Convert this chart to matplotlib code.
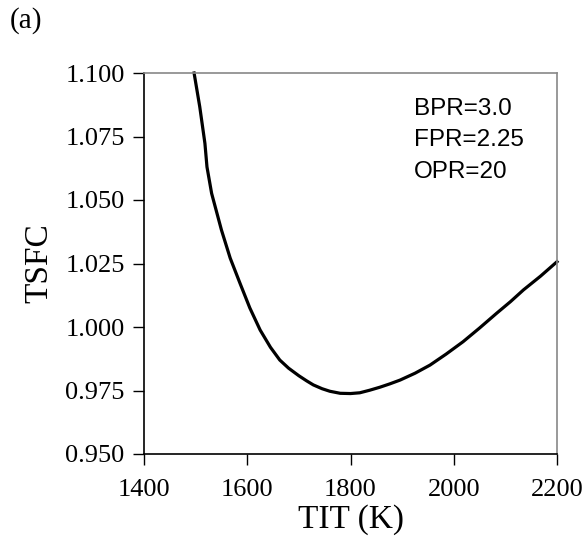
import matplotlib.pyplot as plt

# Data
tit = [1497, 1508, 1518, 1522, 1531, 1550, 1567, 1586, 1605, 1625, 1645, 1663,
       1680, 1700, 1715, 1728, 1745, 1760, 1780, 1800, 1818, 1837, 1857, 1876,
       1896, 1925, 1954, 1985, 2018, 2050, 2083, 2110, 2135, 2168, 2200]
tsfc = [1.1000, 1.0867, 1.0723, 1.0630, 1.0526, 1.0382, 1.0271, 1.0172, 1.0075,
        0.9988, 0.9920, 0.9870, 0.9838, 0.9808, 0.9788, 0.9772, 0.9757, 0.9747,
        0.9739, 0.9738, 0.9741, 0.9751, 0.9763, 0.9776, 0.9791, 0.9818, 0.9850,
        0.9893, 0.9942, 0.9996, 1.0054, 1.0100, 1.0146, 1.0200, 1.0257]
xticks = [1400, 1600, 1800, 2000, 2200]
yticks = [0.950, 0.975, 1.000, 1.025, 1.050, 1.075, 1.100]
params = ['BPR=3.0', 'FPR=2.25', 'OPR=20']

serif = 'Liberation Serif'
sans = 'Liberation Sans'

fig = plt.figure(figsize=(5.86, 5.52), dpi=100)
ax = fig.add_axes([144 / 586, 98 / 552, 413 / 586, 381 / 552])

ax.plot(tit, tsfc, color='black', linewidth=2.3, clip_on=False,
        solid_joinstyle='round')

ax.set_xlim(1400, 2200)
ax.set_ylim(0.950, 1.100)
ax.set_xticks(xticks)
ax.set_yticks(yticks)
ax.set_xticklabels([str(v) for v in xticks], fontsize=19, family=serif)
ax.set_yticklabels([f'{v:.3f}' for v in yticks], fontsize=19, family=serif)
ax.tick_params(direction='out', length=8, width=1, color='black', pad=6)
ax.tick_params(axis='x', pad=10)

ax.set_xlabel('TIT (K)', fontsize=24, family=serif, labelpad=2)
ax.set_ylabel('TSFC', fontsize=24, family=serif, labelpad=8)

# Spines: black on left/bottom, grey frame on top/right
for side in ['left', 'bottom']:
    ax.spines[side].set_color('black')
    ax.spines[side].set_linewidth(1.2)
for side in ['top', 'right']:
    ax.spines[side].set_color('#888888')
    ax.spines[side].set_linewidth(1.2)

# Parameter text
ax.text((414 - 144) / 413, (454 - 98) / 381, '\n'.join(params),
        transform=ax.transAxes, fontsize=17.5, family=sans,
        ha='left', va='top', linespacing=1.55)

fig.text(10 / 586, 1 - 28 / 552, '(a)', fontsize=21, family=serif,
         ha='left', va='baseline')

plt.savefig('out.png', dpi=100)
